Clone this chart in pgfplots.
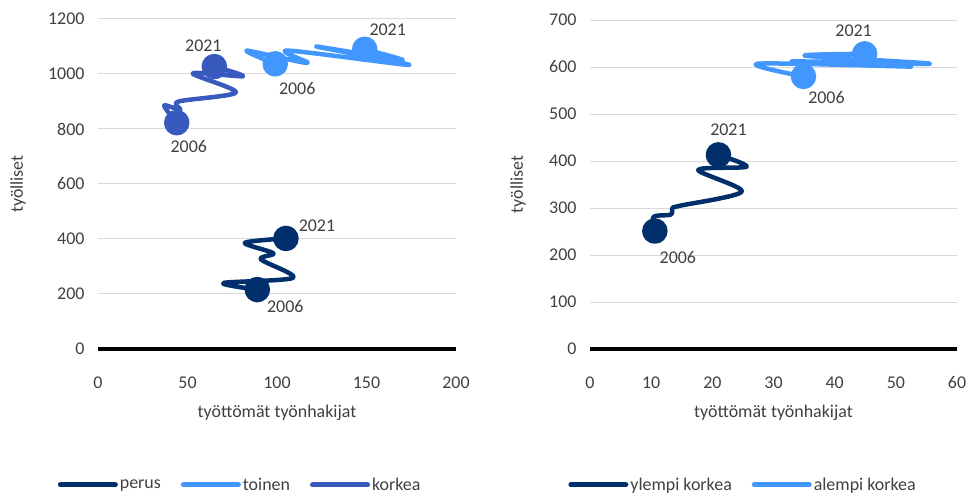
\documentclass[border=0pt]{standalone}
\usepackage{pgfplots}
\pgfplotsset{compat=1.18}
\usepackage{fontspec}
\setmainfont{Carlito}
\definecolor{navy}{RGB}{0,47,108}
\definecolor{lblue}{RGB}{66,151,255}
\definecolor{mblue}{RGB}{56,90,190}
\definecolor{txt}{RGB}{64,64,64}
\newcommand{\fs}{\fontsize{18}{20}\selectfont}
\tikzset{lab/.style={font=\fs, text=txt}}
\pgfplotsset{
 base/.style={
  scale only axis,
  axis x line*=bottom, axis y line*=left,
  y axis line style={draw=none},
  x axis line style={line width=3bp,-},
  major tick length=0pt,
  ymajorgrids, grid style={line width=1bp, black!15},
  tick label style={font=\fs, text=txt},
  label style={font=\fs, text=txt},
  xticklabel style={yshift=-24bp},
  yticklabel style={xshift=-10bp},
  /pgf/number format/assume math mode=true,
  /pgf/number format/set thousands separator={},
  legend style={draw=none, fill=none, font=\fs, text=txt, legend columns=-1,
    /tikz/every even column/.append style={column sep=18bp}, anchor=center,
    /tikz/every odd column/.append style={column sep=0bp}},
  legend image code/.code={\draw[#1, line width=5bp, line cap=round] (0bp,0bp) -- (55bp,0bp);},
  clip=false,
  every axis plot/.append style={line width=4.5bp, line cap=round, line join=round},
 },
 ser/.style={color=#1, smooth, no markers},
 mk/.style={color=#1, only marks, mark=*, mark size=10.5bp, forget plot},
}
\begin{document}
\begin{tikzpicture}
\useasboundingbox (0,0) rectangle (974bp,497bp);
\begin{axis}[base, at={(98bp,148bp)}, anchor=south west,
  width=358bp, height=330bp,
  xmin=0, xmax=200, ymin=0, ymax=1200,
  xtick={0,50,...,200}, ytick={0,200,...,1200},
  xlabel={työttömät työnhakijat}, ylabel={työlliset},
  xlabel style={at={(axis description cs:0.5,-0.194)}, anchor=center},
  ylabel style={at={(axis description cs:-0.223,0.5)}, anchor=center},
  legend style={at={(axis description cs:0.397,-0.412)}},
]
\addplot[ser=navy] coordinates {(89,216) (70,240) (109,259) (91,326) (98,348) (82,386) (105,402)};
\addlegendentry{perus}
\addplot[ser=lblue] coordinates {(99,1037) (83,1085) (117,1040) (106,1085) (174,1033) (122,1100) (170,1050) (149,1090)};
\addlegendentry{toinen}
\addplot[ser=mblue] coordinates {(44,823) (37,885) (46,870) (45,900) (77,933) (53,1002) (81,992) (65,1027)};
\addlegendentry{korkea}
\addplot[mk=navy] coordinates {(89,216) (105,402)};
\addplot[mk=lblue] coordinates {(99,1037) (149,1090)};
\addplot[mk=mblue] coordinates {(44,823) (65,1027)};
\node[lab, xshift=28bp, yshift=-17bp] at (axis cs:89,216) {2006};
\node[lab, xshift=31bp, yshift=13bp] at (axis cs:105,402) {2021};
\node[lab, xshift=22bp, yshift=-25bp] at (axis cs:99,1037) {2006};
\node[lab, xshift=23bp, yshift=20bp] at (axis cs:149,1090) {2021};
\node[lab, xshift=12bp, yshift=-24bp] at (axis cs:44,823) {2006};
\node[lab, xshift=-11bp, yshift=21bp] at (axis cs:65,1027) {2021};
\end{axis}
\begin{axis}[base, at={(590bp,148bp)}, anchor=south west,
  width=367bp, height=329bp,
  xmin=0, xmax=60, ymin=0, ymax=700,
  xtick={0,10,...,60}, ytick={0,100,...,700},
  xlabel={työttömät työnhakijat}, ylabel={työlliset},
  xlabel style={at={(axis description cs:0.5,-0.194)}, anchor=center},
  ylabel style={at={(axis description cs:-0.196,0.5)}, anchor=center},
  legend style={at={(axis description cs:0.417,-0.413)}},
]
\addplot[ser=navy] coordinates {(10.6,251) (10.4,281) (13.2,286) (13.5,300) (14.8,305) (24.8,335) (17.7,381) (25.6,388) (21,413)};
\addlegendentry{ylempi korkea}
\addplot[ser=lblue] coordinates {(34.9,580) (27.5,607) (52.5,601) (33,612) (55.6,607) (35.2,624) (44.9,628)};
\addlegendentry{alempi korkea}
\addplot[mk=navy] coordinates {(10.6,251) (21,413)};
\addplot[mk=lblue] coordinates {(34.9,580) (44.9,628)};
\node[lab, xshift=23bp, yshift=-26bp] at (axis cs:10.6,251) {2006};
\node[lab, xshift=10bp, yshift=25bp] at (axis cs:21,413) {2021};
\node[lab, xshift=23bp, yshift=-21bp] at (axis cs:34.9,580) {2006};
\node[lab, xshift=-11bp, yshift=23bp] at (axis cs:44.9,628) {2021};
\end{axis}
\end{tikzpicture}
\end{document}
